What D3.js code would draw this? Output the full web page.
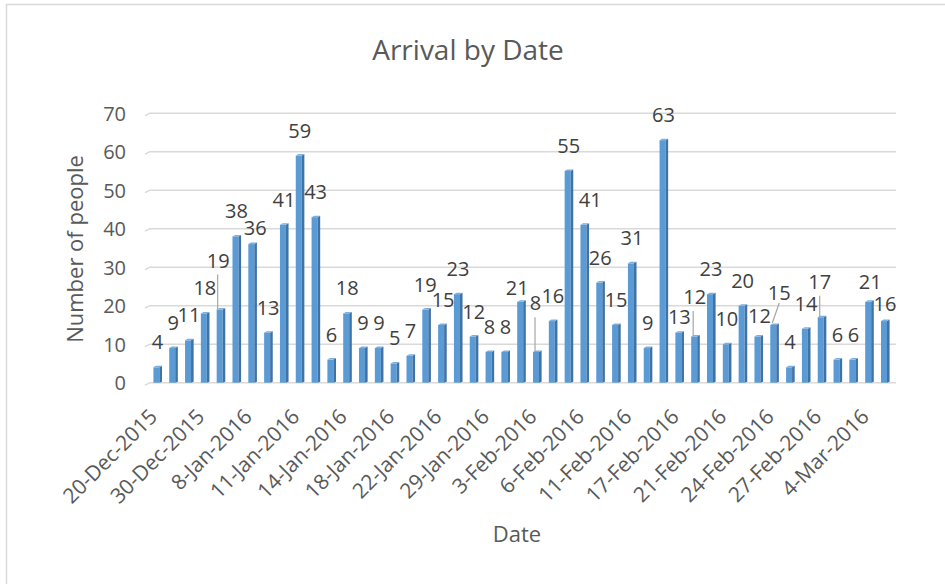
<!DOCTYPE html>
<html><head><meta charset="utf-8">
<script src="https://cdn.jsdelivr.net/npm/d3@7"></script>
<style>html,body{margin:0;padding:0;background:#fff;}svg{display:block;font-family:"Open Sans",sans-serif;}</style>
</head><body>
<svg id="chart" width="945" height="584"></svg>
<script>
const dates = ["20-Dec-2015","21-Dec-2015","22-Dec-2015","30-Dec-2015","31-Dec-2015","1-Jan-2016","8-Jan-2016","9-Jan-2016","10-Jan-2016","11-Jan-2016","12-Jan-2016","13-Jan-2016","14-Jan-2016","15-Jan-2016","16-Jan-2016","18-Jan-2016","19-Jan-2016","20-Jan-2016","22-Jan-2016","23-Jan-2016","24-Jan-2016","29-Jan-2016","30-Jan-2016","31-Jan-2016","3-Feb-2016","4-Feb-2016","5-Feb-2016","6-Feb-2016","7-Feb-2016","8-Feb-2016","11-Feb-2016","12-Feb-2016","13-Feb-2016","17-Feb-2016","18-Feb-2016","19-Feb-2016","21-Feb-2016","22-Feb-2016","23-Feb-2016","24-Feb-2016","25-Feb-2016","26-Feb-2016","27-Feb-2016","28-Feb-2016","29-Feb-2016","4-Mar-2016","5-Mar-2016"];
const people = [4,9,11,18,19,38,36,13,41,59,43,6,18,9,9,5,7,19,15,23,12,8,8,21,8,16,55,41,26,15,31,9,63,13,12,23,10,20,12,15,4,14,17,6,6,21,16];
const yTicks = [0,10,20,30,40,50,60,70];
const tickLabelEvery = 3;
const titleText = "Arrival by Date";
const xTitle = "Date";
const yTitle = "Number of people";

// label placement tweaks (layout only)
const labelAdjust = {
  4:{dx:-2.5,dy:-24,leader:"v",lx:-3},
  6:{dx:3,dy:9},
  17:{dx:-1,dy:0},
  18:{dx:1,dy:0},
  23:{dx:-4,dy:11.5},
  24:{dx:-1.5,dy:-23.6,leader:"v",lx:-2},
  27:{dx:5.7,dy:0},
  33:{dx:0,dy:9.5},
  34:{dx:-0.5,dy:-14.5,leader:"v",lx:-2},
  38:{dx:1,dy:4.5},
  39:{dx:5,dy:-7,leader:"s"},
  42:{dx:-2,dy:-10.5,leader:"v",lx:-2},
  45:{dx:1,dy:5},
  46:{dx:0,dy:8}
};

const svg = d3.select("#chart");
svg.append("rect").attr("x",6.5).attr("y",4.5).attr("width",960).attr("height",600)
  .attr("fill","#fff").attr("stroke","#d9d9d9").attr("stroke-width",1.5);

const x = d3.scaleBand().domain(dates).range([149.5, 892.9]).padding(0);
const y = d3.scaleLinear().domain([0,70]).range([382.7, 113.2]);

// gridlines with 3D slant
const grid = svg.append("g");
yTicks.forEach(t=>{
  const yy = y(t);
  grid.append("path").attr("d",`M145,${yy+2.5}L150,${yy}H896`)
    .attr("fill","none").attr("stroke","#d9d9d9").attr("stroke-width",1.5);
});

// y axis labels
const yAxis = d3.axisLeft(y).tickValues(yTicks).tickSize(0).tickPadding(0);
const yg = svg.append("g").attr("transform","translate(126,0)").call(yAxis);
yg.select(".domain").remove();
yg.selectAll("text").attr("fill","#595959").style("font-size","20px").style("font-family","Open Sans, sans-serif").attr("dy","0.35em");

// bars
const bars = svg.append("g");
dates.forEach((d,i)=>{
  const c = x(d) + x.bandwidth()/2 + 0.3;
  const top = y(people[i]), base = y(0);
  bars.append("rect").attr("x",c-4.3).attr("y",top).attr("width",6).attr("height",base-top).attr("fill","#5B9BD5");
  bars.append("path").attr("d",`M${c+1.7},${top}L${c+4.3},${top-1.5}L${c+4.3},${base-1}L${c+1.7},${base}Z`).attr("fill","#3F72A5");
  bars.append("path").attr("d",`M${c-4.3},${top}L${c-1.7},${top-1.5}L${c+4.3},${top-1.5}L${c+1.7},${top}Z`).attr("fill","#7DAEDD");
});

// data labels
const labels = svg.append("g");
dates.forEach((d,i)=>{
  const c = x(d) + x.bandwidth()/2;
  const top = y(people[i]);
  const a = labelAdjust[i] || {dx:0,dy:0};
  const lx = c + a.dx, ly = top - 25 + a.dy;
  if (a.leader === "v") {
    labels.append("line").attr("x1",c+a.lx).attr("x2",c+a.lx).attr("y1",top).attr("y2",ly+14)
      .attr("stroke","#a6a6a6").attr("stroke-width",1.2);
  } else if (a.leader === "s") {
    labels.append("line").attr("x1",c-2).attr("y1",top-2).attr("x2",lx).attr("y2",ly+10)
      .attr("stroke","#a6a6a6").attr("stroke-width",1.2);
  }
  labels.append("text").attr("x",lx).attr("y",ly).attr("dy","0.35em").attr("text-anchor","middle")
    .attr("fill","#404040").style("font-size","20px").text(people[i]);
});

// x axis labels
const xAxis = d3.axisBottom(x).tickValues(dates.filter((d,i)=>i%tickLabelEvery===0)).tickSize(0).tickPadding(0);
const xg = svg.append("g").attr("transform","translate(0,392)").call(xAxis);
xg.select(".domain").remove();
xg.selectAll("text").attr("fill","#595959").style("font-size","21px").style("font-family","Open Sans, sans-serif")
  .attr("text-anchor","end").attr("dy","0").attr("y",0)
  .attr("transform","translate(1,26) rotate(-45)");

// titles
svg.append("text").attr("x",468).attr("y",60).attr("text-anchor","middle").attr("fill","#595959")
  .style("font-size","28px").text(titleText);
svg.append("text").attr("x",517).attr("y",542).attr("text-anchor","middle").attr("fill","#595959")
  .style("font-size","22px").text(xTitle);
svg.append("text").attr("transform","translate(83,249) rotate(-90)").attr("text-anchor","middle").attr("fill","#595959")
  .style("font-size","22px").text(yTitle);
</script>
</body></html>
